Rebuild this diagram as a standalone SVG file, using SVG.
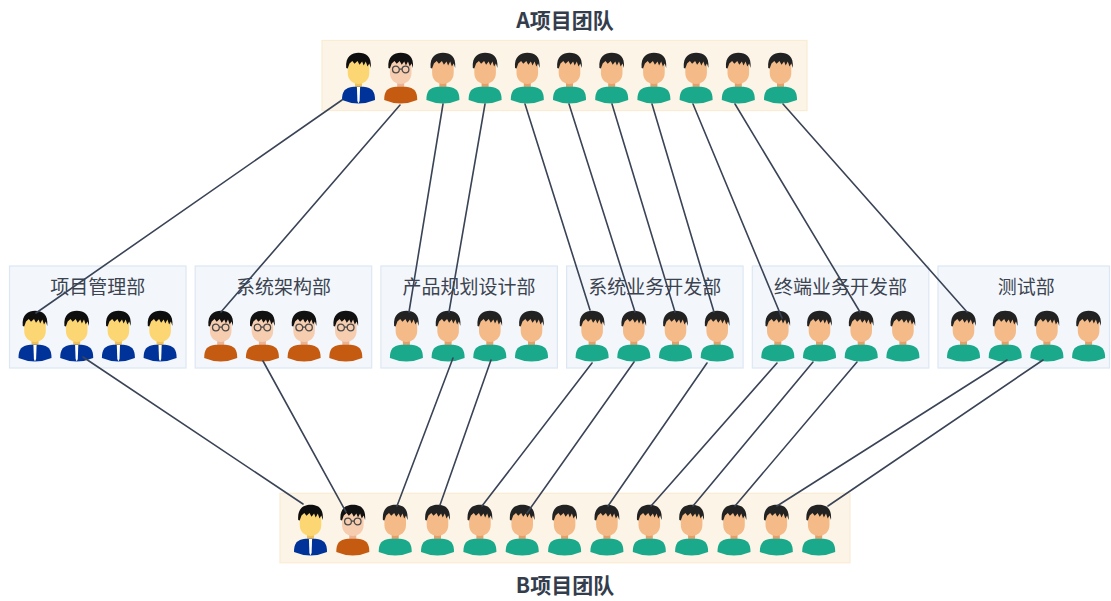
<svg xmlns="http://www.w3.org/2000/svg" xmlns:xlink="http://www.w3.org/1999/xlink" width="1111" height="601" viewBox="0 0 1111 601">
  <style>
    .team { fill: #fcf5e7; stroke: #f9ecd2; stroke-width: 1.2; }
    .dept { fill: #f3f7fc; stroke: #dde7f3; stroke-width: 1.2; }
    .team-title { font-family: "Noto Sans CJK SC", "Liberation Sans", sans-serif; font-size: 21px; font-weight: bold; fill: #343d4c; text-anchor: middle; }
    .dept-title { font-family: "Noto Sans CJK SC", "Liberation Sans", sans-serif; font-size: 19px; fill: #3b4350; text-anchor: middle; }
    .link { stroke: #3a4456; stroke-width: 1.6; fill: none; stroke-linecap: round; }
  </style>
  <defs>
    <!-- shared person parts; origin is the top centre of the hair -->
    <path id="body" d="M -16.5 47 C -16.5 39 -14 34.5 -5 33.8 L 5 33.8 C 14 34.5 16.5 39 16.5 47 Q 0 54 -16.5 47 Z"/>
    <path id="face" d="M -10.8 8 C -10.8 4 10.8 4 10.8 8 L 10.8 20 C 10.8 27 5.5 31 0 31 C -5.5 31 -10.8 27 -10.8 20 Z"/>
    <rect id="neck" x="-3.5" y="28" width="7" height="7"/>
    <path id="hair" d="M -12.3 15 C -13.3 3 -6.5 -0.3 0 -0.3 C 7.5 -0.3 13.3 3 12.3 15 L 10.8 10.5 L 9 13.5 L 7.3 8.5 L 5.2 12.5 L 3.6 8.5 L 1 11.8 L -1 8 L -4 10.8 L -6.2 8 L -9 10.5 L -10.8 15.5 Z"/>

    <g id="mgr">
      <use href="#neck" fill="#efc15d"/>
      <use href="#face" fill="#fdd674"/>
      <use href="#hair" fill="#0e0e0e"/>
      <use href="#body" fill="#003399"/>
      <path d="M -1.6 34 L 1.6 34 L 1.1 48 L 0 50.5 L -1.1 48 Z" fill="#ffffff"/>
    </g>
    <g id="arch">
      <use href="#neck" fill="#e9b394"/>
      <use href="#face" fill="#f7cdb0"/>
      <use href="#hair" fill="#111111"/>
      <g fill="none" stroke="#4a4a4a" stroke-width="1.3">
        <circle cx="-4.8" cy="16.5" r="3.4"/>
        <circle cx="4.8" cy="16.5" r="3.4"/>
        <line x1="-1.4" y1="16.1" x2="1.4" y2="16.1"/>
      </g>
      <use href="#body" fill="#c55a11"/>
    </g>
    <g id="dev">
      <use href="#neck" fill="#e2a06c"/>
      <use href="#face" fill="#f4bb88"/>
      <use href="#hair" fill="#222222"/>
      <use href="#body" fill="#1aa98a"/>
    </g>
  </defs>

  <rect width="1111" height="601" fill="#ffffff"/>

  <!-- A team -->
  <g id="team-a">
    <text class="team-title" x="565" y="28">A项目团队</text>
    <rect class="team" x="322" y="40.5" width="485" height="70"/>
    <use href="#mgr" x="358.5" y="53"/>
    <use href="#arch" x="400.7" y="53"/>
    <use href="#dev" x="442.9" y="53"/>
    <use href="#dev" x="485.1" y="53"/>
    <use href="#dev" x="527.3" y="53"/>
    <use href="#dev" x="569.5" y="53"/>
    <use href="#dev" x="611.7" y="53"/>
    <use href="#dev" x="653.9" y="53"/>
    <use href="#dev" x="696.1" y="53"/>
    <use href="#dev" x="738.3" y="53"/>
    <use href="#dev" x="780.5" y="53"/>
  </g>

  <!-- departments -->
  <g id="dept-1">
    <rect class="dept" x="9.5" y="266" width="176.5" height="102"/>
    <text class="dept-title" x="97.7" y="294">项目管理部</text>
    <use href="#mgr" x="35" y="311"/>
    <use href="#mgr" x="76.7" y="311"/>
    <use href="#mgr" x="118.4" y="311"/>
    <use href="#mgr" x="160.1" y="311"/>
  </g>
  <g id="dept-2">
    <rect class="dept" x="195.2" y="266" width="176.5" height="102"/>
    <text class="dept-title" x="283.4" y="294">系统架构部</text>
    <use href="#arch" x="220.7" y="311"/>
    <use href="#arch" x="262.4" y="311"/>
    <use href="#arch" x="304.1" y="311"/>
    <use href="#arch" x="345.8" y="311"/>
  </g>
  <g id="dept-3">
    <rect class="dept" x="380.9" y="266" width="176.5" height="102"/>
    <text class="dept-title" x="469.1" y="294">产品规划设计部</text>
    <use href="#dev" x="406.4" y="311"/>
    <use href="#dev" x="448.1" y="311"/>
    <use href="#dev" x="489.8" y="311"/>
    <use href="#dev" x="531.5" y="311"/>
  </g>
  <g id="dept-4">
    <rect class="dept" x="566.6" y="266" width="176.5" height="102"/>
    <text class="dept-title" x="654.8" y="294">系统业务开发部</text>
    <use href="#dev" x="592.1" y="311"/>
    <use href="#dev" x="633.8" y="311"/>
    <use href="#dev" x="675.5" y="311"/>
    <use href="#dev" x="717.2" y="311"/>
  </g>
  <g id="dept-5">
    <rect class="dept" x="752.3" y="266" width="176.5" height="102"/>
    <text class="dept-title" x="840.5" y="294">终端业务开发部</text>
    <use href="#dev" x="777.8" y="311"/>
    <use href="#dev" x="819.5" y="311"/>
    <use href="#dev" x="861.2" y="311"/>
    <use href="#dev" x="902.9" y="311"/>
  </g>
  <g id="dept-6">
    <rect class="dept" x="938" y="266" width="171.5" height="102"/>
    <text class="dept-title" x="1026.2" y="294">测试部</text>
    <use href="#dev" x="963.5" y="311"/>
    <use href="#dev" x="1005.2" y="311"/>
    <use href="#dev" x="1046.9" y="311"/>
    <use href="#dev" x="1088.6" y="311"/>
  </g>

  <!-- B team -->
  <g id="team-b">
    <rect class="team" x="280" y="493.3" width="570" height="69.5"/>
    <use href="#mgr" x="310.5" y="505"/>
    <use href="#arch" x="352.8" y="505"/>
    <use href="#dev" x="395.2" y="505"/>
    <use href="#dev" x="437.5" y="505"/>
    <use href="#dev" x="479.9" y="505"/>
    <use href="#dev" x="522.2" y="505"/>
    <use href="#dev" x="564.6" y="505"/>
    <use href="#dev" x="606.9" y="505"/>
    <use href="#dev" x="649.3" y="505"/>
    <use href="#dev" x="691.6" y="505"/>
    <use href="#dev" x="734" y="505"/>
    <use href="#dev" x="776.3" y="505"/>
    <use href="#dev" x="818.7" y="505"/>
    <text class="team-title" x="565" y="593">B项目团队</text>
  </g>

  <!-- connectors: A team to departments, departments to B team -->
  <g id="connectors">
    <line class="link" x1="342" y1="100" x2="36" y2="313"/>
    <line class="link" x1="400" y1="105" x2="221" y2="312"/>
    <line class="link" x1="443" y1="104" x2="409" y2="312"/>
    <line class="link" x1="485" y1="104" x2="449" y2="312"/>
    <line class="link" x1="525" y1="104" x2="590" y2="310"/>
    <line class="link" x1="569" y1="104" x2="635" y2="312"/>
    <line class="link" x1="612" y1="104" x2="675" y2="312"/>
    <line class="link" x1="652" y1="104" x2="714" y2="312"/>
    <line class="link" x1="693" y1="104" x2="782" y2="318"/>
    <line class="link" x1="735" y1="104" x2="860" y2="312"/>
    <line class="link" x1="783" y1="104" x2="967" y2="312"/>

    <line class="link" x1="83" y1="357" x2="303" y2="504"/>
    <line class="link" x1="263" y1="361" x2="346" y2="512"/>
    <line class="link" x1="453" y1="358" x2="397" y2="506"/>
    <line class="link" x1="491" y1="360" x2="440" y2="505"/>
    <line class="link" x1="592" y1="363" x2="482" y2="506"/>
    <line class="link" x1="634" y1="362" x2="527" y2="513"/>
    <line class="link" x1="707" y1="363" x2="608" y2="506"/>
    <line class="link" x1="777" y1="363" x2="651" y2="506"/>
    <line class="link" x1="813" y1="362" x2="693" y2="506"/>
    <line class="link" x1="857" y1="362" x2="735" y2="506"/>
    <line class="link" x1="1007" y1="360" x2="777" y2="506"/>
    <line class="link" x1="1043" y1="360" x2="828" y2="506"/>
  </g>
</svg>
